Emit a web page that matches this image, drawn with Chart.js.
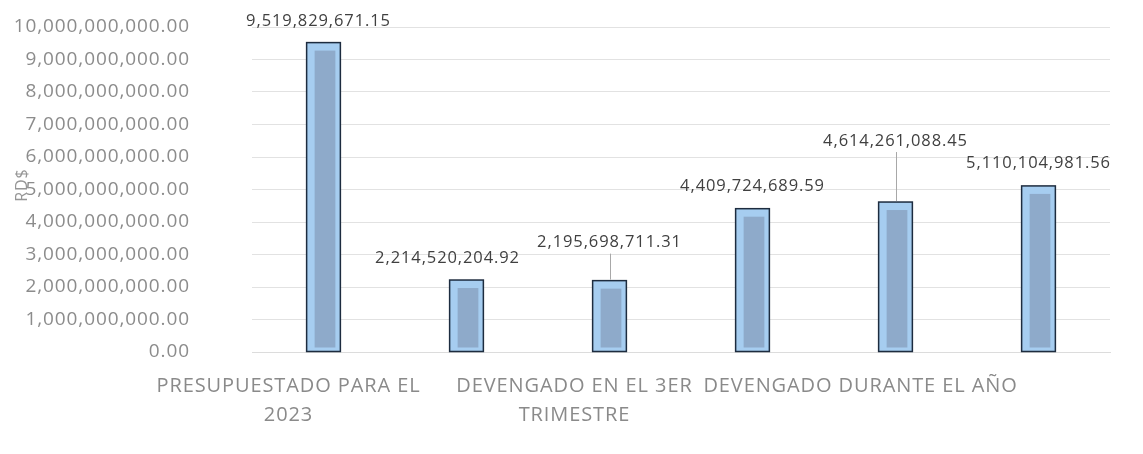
<!DOCTYPE html>
<html>
<head>
<meta charset="utf-8">
<script src="https://cdn.jsdelivr.net/npm/chart.js@4/dist/chart.umd.min.js"></script>
<style>
  html, body { margin: 0; padding: 0; background: #fff; }
</style>
</head>
<body>
<canvas id="grafico" width="1143" height="454"></canvas>
<script>
// DATI DEL GRAFICO
const categorie = [
  ['PRESUPUESTADO PARA EL', '2023'],
  '',
  ['DEVENGADO EN EL 3ER', 'TRIMESTRE'],
  '',
  'DEVENGADO DURANTE EL AÑO',
  ''
];
const valori = [9519829671.15, 2214520204.92, 2195698711.31, 4409724689.59, 4614261088.45, 5110104981.56];
const tickAsseY = [0, 1e9, 2e9, 3e9, 4e9, 5e9, 6e9, 7e9, 8e9, 9e9, 1e10];
const titoloAsseY = 'RD$';

// spostamento delle etichette dei valori (a mano, come nel foglio originale)
const spostamenti = [
  { dx: -5, dy: -21, linea: false },
  { dx: -19, dy: -22, linea: false },
  { dx: 0, dy: -38, linea: true },
  { dx: 0, dy: -22, linea: false },
  { dx: 0, dy: -61, linea: true },
  { dx: 0, dy: -23, linea: false }
];

function formatta(v) {
  return v.toLocaleString('en-US', { minimumFractionDigits: 2, maximumFractionDigits: 2 });
}

// testo un po' "allargato" come nella scansione
const pluginSpaziatura = {
  id: 'spaziatura',
  beforeLayout(chart) { chart.ctx.letterSpacing = '0.9px'; },
  beforeDraw(chart) { chart.ctx.letterSpacing = '0.9px'; }
};

// BARRE CON EFFETTO RILIEVO + ETICHETTE
const pluginBarre = {
  id: 'barre',
  afterDatasetsDraw(chart) {
    const ctx = chart.ctx;
    const meta = chart.getDatasetMeta(0);
    meta.data.forEach((bar, i) => {
      const { x, y, base, width } = bar.getProps(['x', 'y', 'base', 'width'], true);
      const l = x - width / 2;
      const h = base - y;
      ctx.save();
      // parte interna più scura
      ctx.fillStyle = '#8eaaca';
      ctx.fillRect(l + 8, y + 8, width - 13, h - 12);
      // bordo
      ctx.strokeStyle = '#1d2c3f';
      ctx.lineWidth = 1.5;
      ctx.strokeRect(l, y, width, h);

      // etichetta valore
      const s = spostamenti[i];
      const tx = x + s.dx;
      const ty = y + s.dy;
      if (s.linea) {
        ctx.strokeStyle = '#a8a8a8';
        ctx.lineWidth = 1;
        ctx.beginPath();
        ctx.moveTo(Math.round(x) + 0.5, ty + 11);
        ctx.lineTo(Math.round(x) + 0.5, y - 1);
        ctx.stroke();
      }
      ctx.font = '16.5px "Open Sans"';
      ctx.fillStyle = '#404040';
      ctx.textAlign = 'center';
      ctx.textBaseline = 'middle';
      ctx.fillText(formatta(valori[i]), tx, ty);
      ctx.restore();
    });

    // titolo asse Y, sovrapposto alle etichette come nell'originale
    const sy = chart.scales.y;
    ctx.save();
    ctx.translate(sy.left + 22, 185);
    ctx.rotate(-Math.PI / 2);
    ctx.font = '16px "Open Sans"';
    ctx.fillStyle = '#969696';
    ctx.textAlign = 'center';
    ctx.textBaseline = 'middle';
    ctx.fillText(titoloAsseY, 0, 0);
    ctx.restore();
  }
};

const ctx = document.getElementById('grafico').getContext('2d');
const chart = new Chart(ctx, {
  type: 'bar',
  data: {
    labels: categorie,
    datasets: [{
      data: valori,
      backgroundColor: '#a6cdf0',
      borderWidth: 0,
      barPercentage: 0.236,
      categoryPercentage: 1
    }]
  },
  options: {
    responsive: false,
    animation: false,
    layout: { padding: { top: 27, right: 33, left: 0, bottom: 0 } },
    plugins: {
      legend: { display: false },
      tooltip: { enabled: false }
    },
    scales: {
      x: {
        grid: { display: false },
        border: { color: '#dcdcdc' },
        ticks: {
          autoSkip: false,
          maxRotation: 0,
          minRotation: 0,
          labelOffset: -35,
          padding: 12,
          color: '#8a8a8a',
          font: { family: 'Open Sans', size: 20, lineHeight: 1.45 }
        },
        afterFit(scale) { scale.height = 102; }
      },
      y: {
        min: 0,
        max: 1e10,
        afterBuildTicks(scale) {
          scale.ticks = tickAsseY.map(v => ({ value: v }));
        },
        grid: { color: '#e2e2e2', drawTicks: false },
        border: { display: false },
        ticks: {
          padding: 62,
          color: '#8c8c8c',
          font: { family: 'Open Sans', size: 19 },
          callback: v => formatta(v)
        },
        afterFit(scale) {
          scale.width = 252;
          // il padding delle etichette non deve spingere giù l'area del grafico
          scale.paddingTop = 0;
          scale.paddingBottom = 0;
        }
      }
    }
  },
  plugins: [pluginSpaziatura, pluginBarre]
});
</script>
</body>
</html>
